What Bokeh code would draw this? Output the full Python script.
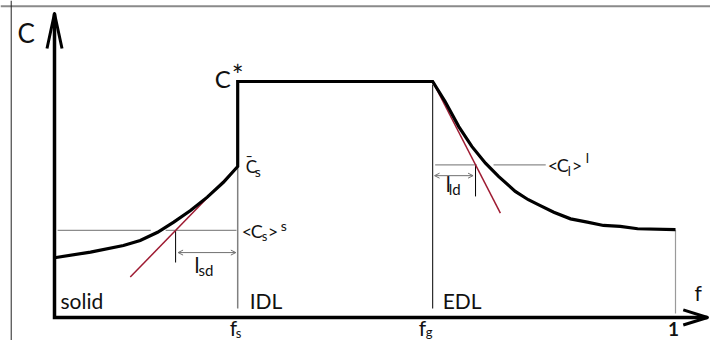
from bokeh.plotting import figure
from bokeh.models import Range1d, Span, Arrow, OpenHead
from bokeh.core.properties import value
from bokeh.embed import file_html
from bokeh.resources import INLINE

# ---------------- data (read from the schematic) ----------------
# solid-side concentration profile C(f), 0 <= f <= f_s
f_solid = [0.0, 0.058, 0.111, 0.138, 0.166, 0.192, 0.219, 0.246, 0.272, 0.295]
C_solid = [0.253, 0.277, 0.305, 0.326, 0.361, 0.404, 0.453, 0.510, 0.573, 0.640]
# liquid-side profile C(f), f_g <= f <= 1
f_liquid = [0.609, 0.629, 0.651, 0.672, 0.694, 0.715, 0.742, 0.763, 0.779,
            0.804, 0.831, 0.858, 0.884, 0.911, 0.939, 1.0]
C_liquid = [1.0, 0.915, 0.809, 0.725, 0.654, 0.598, 0.534, 0.499, 0.478,
            0.446, 0.418, 0.404, 0.390, 0.386, 0.376, 0.372]

f_s = 0.295        # solid fraction at the IDL boundary
f_g = 0.609        # grain envelope fraction
C_star = 1.0       # C*
Cbar_s = 0.640     # C-bar_s
Cs_mean = 0.369    # <C_s>^s
Cl_mean = 0.647    # <C_l>^l
l_sd = 0.100       # solid diffusion length
l_ld = 0.069       # liquid diffusion length
tan_s_start = 0.122   # start of solid tangent
tan_l_end = 0.718     # end of liquid tangent
y_tip = 1.288      # top of C axis
x_tip = 1.0515     # end of f axis

FONT = value("Lato")
TXT = "#111111"

p = figure(width=710, height=340, output_backend="svg", toolbar_location=None,
           x_axis_type=None, y_axis_type=None, min_border=0,
           x_range=Range1d(-0.08696, 1.05636), y_range=Range1d(-0.0975, 1.3432))
p.outline_line_color = None
p.grid.visible = False
p.background_fill_color = "white"

# picture frame
p.add_layout(Span(location=1.319, dimension="width", line_color="#8a8a8a", line_width=2))
p.add_layout(Span(location=-0.0697, dimension="height", line_color="#222222", line_width=1))

# thin guide lines
p.line([f_s, f_s], [Cbar_s, 0.038], line_color="#808080", line_width=1.5)
p.line([f_g, f_g], [C_star - 0.013, 0.038], line_color="#000000", line_width=1)
p.line([1.0, 1.0], [C_liquid[-1], 0.017], line_color="#9a9a9a", line_width=1.2)
p.multi_line([[0.005, 0.155], [0.179, f_s - 0.002]], [[Cs_mean] * 2, [Cs_mean] * 2],
             line_color="#8c8c8c", line_width=1.2)
p.multi_line([[f_g + 0.004, f_g + l_ld + 0.002], [0.707, 0.791]], [[Cl_mean] * 2, [Cl_mean] * 2],
             line_color="#8c8c8c", line_width=1.2)
p.line([f_s - l_sd] * 2, [Cs_mean, 0.233], line_color="#000000", line_width=1)
p.line([f_g + l_ld] * 2, [Cl_mean, 0.513], line_color="#000000", line_width=1)

# diffusion-length arrows
for xs, xe, yy in [(f_s - l_sd + 0.004, f_s - 0.003, 0.275), (f_g + 0.003, f_g + l_ld - 0.004, 0.601)]:
    p.add_layout(Arrow(x_start=xs, y_start=yy, x_end=xe, y_end=yy,
                       start=OpenHead(size=5, line_color="#707070", line_width=1),
                       end=OpenHead(size=5, line_color="#707070", line_width=1),
                       line_color="#707070", line_width=1))

# tangents
slope_s = (Cbar_s - Cs_mean) / l_sd
p.line([tan_s_start, f_s], [Cbar_s - slope_s * (f_s - tan_s_start), Cbar_s],
       line_color="#9e1b32", line_width=1.5)
slope_l = (C_star - Cl_mean) / l_ld
p.line([f_g, tan_l_end], [C_star, C_star - slope_l * (tan_l_end - f_g)],
       line_color="#9e1b32", line_width=1.5)

# main profile
prof_f = f_solid + [f_s] + f_liquid
prof_C = C_solid + [C_star] + C_liquid
p.line(prof_f, prof_C, line_color="black", line_width=3.2, line_join="miter")

# axes with open arrow heads
p.line([0, 0, x_tip], [y_tip, 0, 0], line_color="black", line_width=3.5, line_join="miter")
p.line([-0.0121, 0, 0.0121], [1.140, y_tip, 1.140], line_color="black", line_width=3, line_join="round")
p.line([x_tip - 0.039, x_tip, x_tip - 0.039], [0.032, 0, -0.032], line_color="black",
       line_width=3, line_join="round")


def lab(x, y, text, dx, dy, size, bold=False, align="left"):
    p.text([x], [y], text=[text], x_offset=dx, y_offset=dy, text_font=FONT,
           text_font_size=f"{size}px", text_color=TXT, text_align=align,
           text_baseline="alphabetic", text_font_style="bold" if bold else "normal")


# axis labels
lab(0, y_tip, "C", -37, 19, 26)
lab(x_tip, 0, "f", -13, -25, 21)
# C*
lab(f_s, C_star, "C", -23, -3, 24)
lab(f_s, C_star, "*", -6, -6, 28)
# C-bar_s
lab(f_s, Cbar_s, "C", 8, 0, 17)
lab(f_s, Cbar_s, "\u00af", 8, -4.5, 17)
lab(f_s, Cbar_s, "s", 17, 4.7, 14)
# <C_s>^s
lab(f_s, Cs_mean, "<", 4, 0.2, 18)
lab(f_s, Cs_mean, "C", 13, 0.2, 18)
lab(f_s, Cs_mean, "s", 24, 6, 13)
lab(f_s, Cs_mean, ">", 30, 0.2, 18)
lab(f_s, Cs_mean, "s", 43, -5.3, 14)
# l_sd
lab(f_s - l_sd, 0.275, "l", 19, 12, 21)
lab(f_s - l_sd, 0.275, "sd", 23, 17.3, 15)
# <C_l>^l
lab(f_g, Cl_mean, "<", 115, 0.2, 18)
lab(f_g, Cl_mean, "C", 124, 0.2, 18)
lab(f_g, Cl_mean, "l", 135, 6, 13)
lab(f_g, Cl_mean, ">", 139, 0.2, 18)
lab(f_g, Cl_mean, "l", 153, -7.3, 14)
# l_ld
lab(f_g, 0.601, "l", 13, 8, 21)
lab(f_g, 0.601, "ld", 16, 13.3, 15)
# region names
lab(0, 0, "solid", 6, -17, 21)
lab(f_s, 0, "IDL", 12, -17, 21)
lab(f_g, 0, "EDL", 10, -17, 21)
# f-axis ticks
lab(f_s, 0, "f", -8, 10, 21)
lab(f_s, 0, "s", -2, 16, 13)
lab(f_g, 0, "f", -14, 10, 21)
lab(f_g, 0, "g", -7, 15, 13)
lab(1.0, 0, "1", -2, 11.8, 19, bold=True, align="center")

open("out.html", "w").write(file_html(p, INLINE))
